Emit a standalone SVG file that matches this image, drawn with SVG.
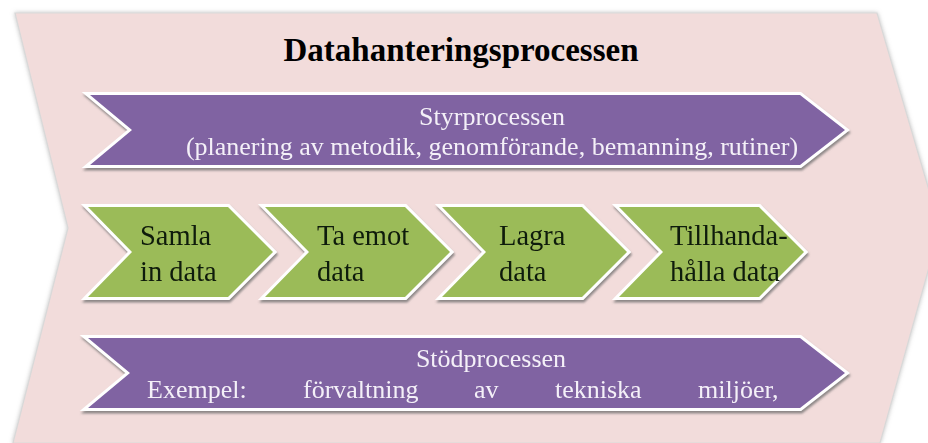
<svg xmlns="http://www.w3.org/2000/svg" width="928" height="443" viewBox="0 0 928 443">
<defs>
<filter id="sh" x="-5%" y="-20%" width="110%" height="150%">
<feDropShadow dx="1" dy="2.5" stdDeviation="1.2" flood-color="#6a6a6a" flood-opacity="0.75"/>
</filter>
<filter id="bigsh" x="-5%" y="-5%" width="110%" height="110%">
<feDropShadow dx="0" dy="0" stdDeviation="2" flood-color="#9a9a9a" flood-opacity="0.6"/>
</filter>
</defs>
<style>
.big{fill:#f2dcdb;stroke:#d9d9d9;stroke-width:1.2}
.purple{fill:#8064a2;stroke:#ffffff;stroke-width:6;stroke-linejoin:miter;paint-order:stroke}
.green{fill:#9bbb59;stroke:#ffffff;stroke-width:6;stroke-linejoin:miter;paint-order:stroke}
.title{font-family:"Liberation Serif","Times New Roman",serif;font-weight:bold;font-size:33px;fill:#000}
.pt{font-family:"Liberation Serif","Times New Roman",serif;font-size:26px;fill:#f4f0f8}
.gt{font-family:"Liberation Serif","Times New Roman",serif;font-size:28.5px;fill:#101a08}
</style>
<rect width="928" height="443" fill="#ffffff"/>
<g id="datahantering">
<polygon class="big" filter="url(#bigsh)" points="15,13 877,13 940,228 880,443 13,443 68,228"/>
<text class="title" x="461" y="61" text-anchor="middle">Datahanteringsprocessen</text>
</g>
<g id="styrprocessen" filter="url(#sh)">
<polygon class="purple" points="90,95 800,95 845,130 800,165 90,165 132,130"/>
<text class="pt" x="492" y="125" text-anchor="middle">Styrprocessen</text>
<text class="pt" x="492" y="155" text-anchor="middle">(planering av metodik, genomförande, bemanning, rutiner)</text>
</g>
<g id="samla" filter="url(#sh)">
<polygon class="green" points="88,207 228,207 273,252 228,297 88,297 132,252"/>
<text class="gt" x="140" y="245">Samla</text>
<text class="gt" x="140" y="281">in data</text>
</g>
<g id="taemot" filter="url(#sh)">
<polygon class="green" points="265,207 405,207 450,252 405,297 265,297 309,252"/>
<text class="gt" x="317" y="245">Ta emot</text>
<text class="gt" x="317" y="281">data</text>
</g>
<g id="lagra" filter="url(#sh)">
<polygon class="green" points="442,207 582,207 627,252 582,297 442,297 486,252"/>
<text class="gt" x="499" y="245">Lagra</text>
<text class="gt" x="499" y="281">data</text>
</g>
<g id="tillhanda" filter="url(#sh)">
<polygon class="green" points="619,207 759,207 804,252 759,297 619,297 663,252"/>
<text class="gt" x="670" y="245">Tillhanda-</text>
<text class="gt" x="670" y="281">hålla data</text>
</g>
<g id="stodprocessen" filter="url(#sh)">
<polygon class="purple" points="88,338 800,338 845,373 800,408 88,408 130,373"/>
<text class="pt" x="491" y="367" text-anchor="middle">Stödprocessen</text>
<text class="pt" x="147" y="398">Exempel:</text>
<text class="pt" x="303" y="398">förvaltning</text>
<text class="pt" x="474" y="398">av</text>
<text class="pt" x="555" y="398">tekniska</text>
<text class="pt" x="698" y="398">miljöer,</text>
</g>
<g id="connectors"></g>
</svg>
